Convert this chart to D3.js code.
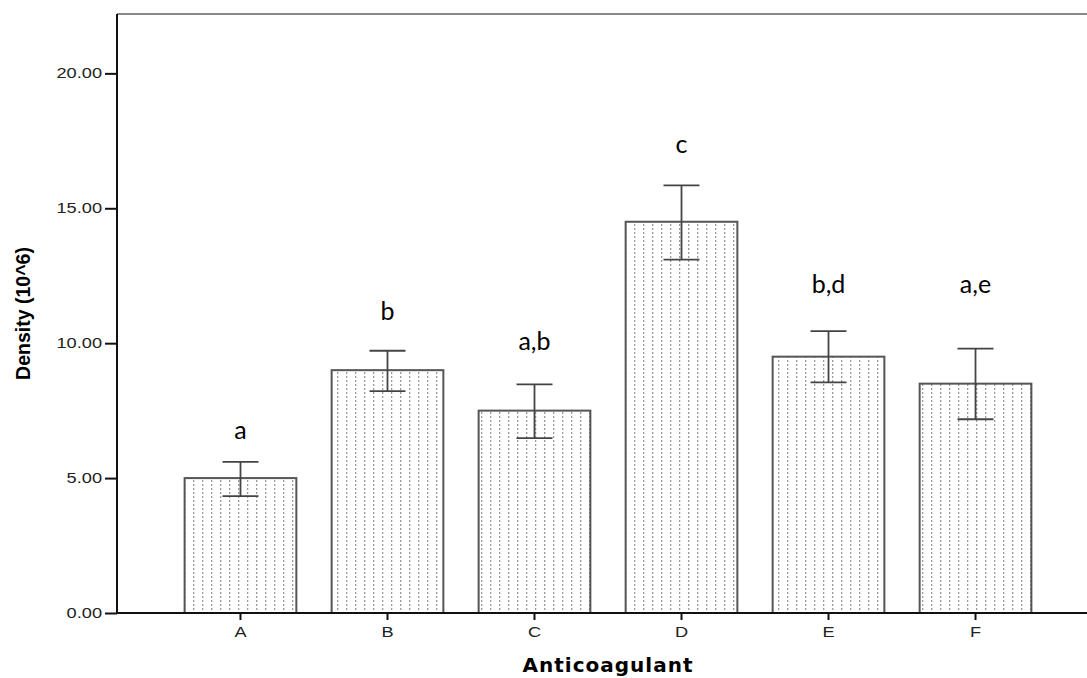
<!DOCTYPE html>
<html>
<head>
<meta charset="utf-8">
<script src="https://cdn.jsdelivr.net/npm/d3@7"></script>
<style>
  body { margin: 0; background: #fff; }
</style>
</head>
<body>
<div id="chart"></div>
<script>
// Density by anticoagulant, bar chart with error bars and group letters
const categories = ["A", "B", "C", "D", "E", "F"];
const means = [5.0, 9.0, 7.5, 14.5, 9.5, 8.5];
const errHigh = [5.6, 9.72, 8.47, 15.85, 10.45, 9.8];
const errLow = [4.33, 8.22, 6.48, 13.1, 8.55, 7.18];
const groupLetters = ["a", "b", "a,b", "c", "b,d", "a,e"];
const letterLevel = [6.44, 10.85, 9.74, 17.04, 11.85, 11.85];
const yTicks = [0, 5, 10, 15, 20];

const W = 1087, H = 678;
const plotLeft = 117, plotTop = 14, plotBottom = 613;
const stretch = 1.3; // tick labels are horizontally stretched in the original

const svg = d3.select("#chart").append("svg")
    .attr("width", W)
    .attr("height", H);

const defs = svg.append("defs");
const pat = defs.append("pattern")
    .attr("id", "dots")
    .attr("patternUnits", "userSpaceOnUse")
    .attr("width", 9)
    .attr("height", 4);
pat.append("rect").attr("width", 9).attr("height", 4).attr("fill", "#fff");
pat.append("rect")
    .attr("x", 4).attr("y", 0)
    .attr("width", 1.3).attr("height", 2)
    .attr("fill", "#9a9a9a");

const x = d3.scaleBand()
    .domain(categories)
    .range([plotLeft, 1099])
    .paddingInner(0.24)
    .paddingOuter(0.46);

const y = d3.scaleLinear()
    .domain([0, 22.2])
    .range([plotBottom, plotTop]);

// bars
svg.append("g").selectAll("rect")
    .data(categories)
    .join("rect")
    .attr("x", d => x(d))
    .attr("y", (d, i) => y(means[i]))
    .attr("width", x.bandwidth())
    .attr("height", (d, i) => y(0) - y(means[i]))
    .attr("fill", "url(#dots)")
    .attr("stroke", "#555")
    .attr("stroke-width", 2);

// error bars
const capW = 36;
const eb = svg.append("g").attr("stroke", "#444").attr("stroke-width", 1.8);
categories.forEach((c, i) => {
    const cx = x(c) + x.bandwidth() / 2;
    eb.append("line")
        .attr("x1", cx).attr("x2", cx)
        .attr("y1", y(errHigh[i])).attr("y2", y(errLow[i]));
    eb.append("line")
        .attr("x1", cx - capW / 2).attr("x2", cx + capW / 2)
        .attr("y1", y(errHigh[i])).attr("y2", y(errHigh[i]));
    eb.append("line")
        .attr("x1", cx - capW / 2).attr("x2", cx + capW / 2)
        .attr("y1", y(errLow[i])).attr("y2", y(errLow[i]));
});

// significance letters
svg.append("g").selectAll("text")
    .data(categories)
    .join("text")
    .attr("x", d => x(d) + x.bandwidth() / 2)
    .attr("y", (d, i) => y(letterLevel[i]))
    .attr("text-anchor", "middle")
    .attr("font-family", "Lato, Open Sans, sans-serif")
    .attr("font-size", 25)
    .attr("fill", "#000")
    .text((d, i) => groupLetters[i]);

// frame: top border
svg.append("line")
    .attr("x1", plotLeft).attr("x2", W)
    .attr("y1", plotTop).attr("y2", plotTop)
    .attr("stroke", "#888").attr("stroke-width", 2);

// y axis
const yAxis = svg.append("g")
    .attr("transform", `translate(${plotLeft},0)`)
    .call(d3.axisLeft(y).tickValues(yTicks).tickFormat(d3.format(".2f")).tickSize(12).tickPadding(3));
yAxis.select(".domain").attr("d", `M0,${plotBottom}V${plotTop}`).attr("stroke", "#111").attr("stroke-width", 2);
yAxis.selectAll(".tick line").attr("stroke", "#111").attr("stroke-width", 2);
yAxis.selectAll("text")
    .attr("x", -15 / stretch)
    .attr("transform", `scale(${stretch},1)`)
    .attr("font-family", "Liberation Sans, Arial, sans-serif")
    .attr("font-size", 14)
    .attr("fill", "#222");

// x axis
const xAxis = svg.append("g")
    .attr("transform", `translate(0,${plotBottom})`)
    .call(d3.axisBottom(x).tickSize(7).tickPadding(7));
xAxis.select(".domain").attr("d", `M${plotLeft},0H${W}`).attr("stroke", "#111").attr("stroke-width", 2);
xAxis.selectAll(".tick line").attr("stroke", "#111").attr("stroke-width", 2);
xAxis.selectAll("text")
    .attr("transform", `scale(${stretch},1)`)
    .attr("font-family", "Liberation Sans, Arial, sans-serif")
    .attr("font-size", 14)
    .attr("fill", "#222");

// axis titles
svg.append("text")
    .attr("x", 608).attr("y", 672)
    .attr("text-anchor", "middle")
    .attr("font-family", "DejaVu Sans, sans-serif")
    .attr("font-weight", "bold")
    .attr("font-size", 20)
    .attr("letter-spacing", 1)
    .text("Anticoagulant");

svg.append("text")
    .attr("transform", `translate(30,${(plotTop + plotBottom) / 2}) rotate(-90)`)
    .attr("text-anchor", "middle")
    .attr("font-family", "Liberation Sans Narrow, Liberation Sans, sans-serif")
    .attr("font-weight", "bold")
    .attr("font-size", 19.5)
    .text("Density (10^6)");
</script>
</body>
</html>
